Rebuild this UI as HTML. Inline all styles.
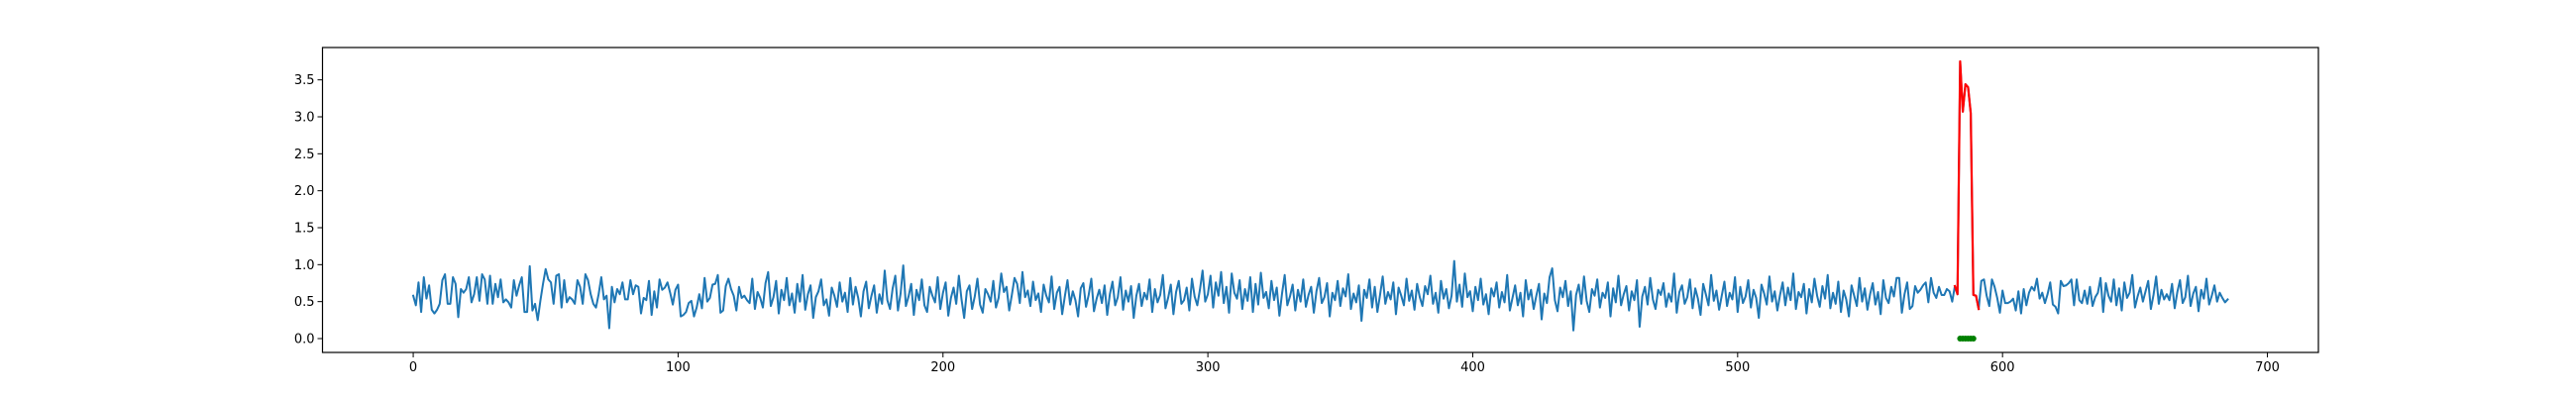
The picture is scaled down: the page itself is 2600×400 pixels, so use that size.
<!DOCTYPE html>
<html><head><meta charset="utf-8">
<style>
html,body{margin:0;padding:0;background:#fff;}
svg{display:block;font-family:"DejaVu Sans","Liberation Sans",sans-serif;}
</style></head>
<body>
<svg id="chart" width="2600" height="400" viewBox="0 0 2600 400" xmlns="http://www.w3.org/2000/svg">
<rect x="0" y="0" width="2600" height="400" fill="#fff"/>
<g id="plot"></g>
</svg>
<script>
const xTicks = [0,100,200,300,400,500,600,700];
const yTicks = [0.0,0.5,1.0,1.5,2.0,2.5,3.0,3.5];
const yTickLabels = ["0.0","0.5","1.0","1.5","2.0","2.5","3.0","3.5"];
const seriesValues = [
0.58,0.45,0.76,0.36,0.83,0.54,0.72,0.39,0.34,0.39,0.47,0.79,0.87,0.47,0.47,0.83,0.74,0.29,0.67,0.62,
0.67,0.83,0.49,0.60,0.83,0.51,0.87,0.80,0.47,0.85,0.47,0.74,0.56,0.80,0.49,0.53,0.49,0.42,0.79,0.58,
0.72,0.83,0.36,0.36,0.98,0.38,0.47,0.25,0.51,0.74,0.94,0.80,0.76,0.47,0.85,0.87,0.42,0.79,0.49,0.56,
0.53,0.47,0.79,0.70,0.47,0.87,0.79,0.60,0.47,0.42,0.60,0.83,0.53,0.58,0.14,0.70,0.49,0.67,0.60,0.76,
0.53,0.53,0.79,0.60,0.72,0.70,0.34,0.55,0.52,0.78,0.32,0.64,0.42,0.80,0.66,0.69,0.76,0.62,0.46,0.66,
0.73,0.30,0.32,0.36,0.48,0.51,0.30,0.42,0.60,0.41,0.82,0.50,0.55,0.73,0.74,0.86,0.35,0.38,0.71,0.81,
0.67,0.58,0.38,0.70,0.55,0.58,0.52,0.48,0.81,0.40,0.63,0.55,0.42,0.75,0.90,0.44,0.56,0.78,0.34,0.66,
0.52,0.82,0.45,0.61,0.35,0.74,0.50,0.86,0.39,0.60,0.72,0.28,0.56,0.64,0.80,0.45,0.53,0.31,0.69,0.58,
0.43,0.76,0.50,0.62,0.36,0.82,0.46,0.70,0.55,0.30,0.64,0.77,0.41,0.58,0.72,0.35,0.60,0.47,0.92,0.52,
0.40,0.68,0.85,0.38,0.61,0.99,0.44,0.57,0.74,0.32,0.66,0.52,0.80,0.45,0.36,0.70,0.58,0.49,0.83,0.40,
0.62,0.76,0.31,0.55,0.69,0.47,0.85,0.53,0.28,0.64,0.72,0.40,0.57,0.81,0.46,0.35,0.67,0.60,0.50,0.78,
0.42,0.55,0.88,0.63,0.70,0.38,0.59,0.82,0.74,0.48,0.90,0.56,0.65,0.44,0.77,0.52,0.61,0.36,0.73,0.58,
0.49,0.84,0.40,0.62,0.70,0.33,0.57,0.79,0.46,0.64,0.52,0.30,0.68,0.75,0.43,0.59,0.81,0.37,0.54,0.66,
0.48,0.72,0.32,0.60,0.77,0.45,0.56,0.83,0.39,0.65,0.50,0.71,0.28,0.58,0.74,0.44,0.62,0.53,0.80,0.36,
0.67,0.49,0.59,0.86,0.41,0.55,0.73,0.33,0.63,0.78,0.47,0.52,0.69,0.38,0.81,0.57,0.45,0.66,0.92,0.50,
0.60,0.85,0.42,0.76,0.58,0.90,0.48,0.70,0.35,0.88,0.62,0.54,0.79,0.40,0.67,0.51,0.83,0.36,0.74,0.46,
0.89,0.55,0.63,0.41,0.78,0.52,0.69,0.31,0.61,0.86,0.45,0.57,0.73,0.38,0.66,0.50,0.80,0.43,0.59,0.70,
0.35,0.64,0.82,0.48,0.56,0.75,0.30,0.62,0.52,0.78,0.44,0.68,0.57,0.87,0.40,0.61,0.49,0.72,0.24,0.66,
0.55,0.80,0.42,0.70,0.36,0.59,0.84,0.47,0.63,0.53,0.76,0.33,0.69,0.58,0.45,0.81,0.51,0.65,0.39,0.74,
0.56,0.44,0.71,0.60,0.85,0.47,0.62,0.35,0.78,0.54,0.67,0.41,0.58,1.05,0.50,0.73,0.43,0.88,0.56,0.64,
0.37,0.70,0.52,0.81,0.46,0.60,0.33,0.68,0.57,0.76,0.42,0.63,0.49,0.86,0.38,0.55,0.72,0.45,0.62,0.30,
0.79,0.53,0.66,0.40,0.58,0.74,0.26,0.61,0.48,0.83,0.95,0.52,0.37,0.69,0.56,0.78,0.44,0.64,0.11,0.59,
0.73,0.47,0.84,0.51,0.36,0.67,0.58,0.80,0.42,0.62,0.55,0.76,0.30,0.68,0.49,0.85,0.45,0.60,0.71,0.38,
0.64,0.52,0.79,0.16,0.57,0.70,0.46,0.82,0.53,0.40,0.66,0.59,0.75,0.43,0.61,0.50,0.88,0.35,0.63,0.72,
0.47,0.56,0.80,0.41,0.68,0.54,0.32,0.74,0.60,0.45,0.86,0.51,0.65,0.39,0.58,0.77,0.44,0.62,0.53,0.83,
0.36,0.70,0.48,0.57,0.79,0.42,0.66,0.55,0.28,0.73,0.61,0.46,0.84,0.50,0.64,0.38,0.59,0.76,0.45,0.69,
0.52,0.88,0.40,0.63,0.56,0.74,0.34,0.67,0.49,0.81,0.58,0.43,0.71,0.54,0.86,0.41,0.62,0.47,0.77,0.36,
0.65,0.53,0.30,0.72,0.58,0.44,0.82,0.50,0.68,0.39,0.60,0.75,0.46,0.63,0.33,0.79,0.55,0.48,0.70,0.57,
0.82,0.82,0.35,0.60,0.76,0.40,0.44,0.71,0.62,0.66,0.72,0.76,0.49,0.82,0.62,0.55,0.70,0.59,0.59,
0.67,0.64,0.50,0.71,0.60,3.75,3.07,3.44,3.40,3.05,0.59,0.58,0.40,0.78,0.80,0.58,0.44,0.80,0.70,0.55,
0.35,0.65,0.48,0.48,0.50,0.54,0.38,0.64,0.34,0.67,0.45,0.62,0.70,0.65,0.81,0.54,0.62,0.48,0.60,0.76,
0.46,0.43,0.34,0.78,0.71,0.72,0.75,0.80,0.45,0.80,0.52,0.48,0.65,0.47,0.70,0.44,0.56,0.62,0.82,0.36,
0.75,0.58,0.50,0.80,0.45,0.68,0.38,0.76,0.55,0.62,0.86,0.42,0.57,0.69,0.50,0.64,0.78,0.40,0.59,0.84,
0.47,0.66,0.53,0.60,0.52,0.74,0.41,0.63,0.79,0.48,0.56,0.85,0.44,0.61,0.70,0.37,0.66,0.54,0.81,0.46,
0.58,0.72,0.50,0.62,0.55,0.49,0.53
];
const anomalyStart = 582;
const anomalyValues = [0.71,0.60,3.75,3.07,3.44,3.40,3.05,0.59,0.58,0.40];
const flaggedIndices = [584,585,586,587,588,589];
const flaggedValues = [0,0,0,0,0,0];

const NS="http://www.w3.org/2000/svg";
const L=325.5,R=2340,T=48,B=356;
const xMin=-34.25,xMax=719.25,yMin=-0.1875,yMax=3.9375;
const xs=v=>L+(v-xMin)/(xMax-xMin)*(R-L);
const ys=v=>B-(v-yMin)/(yMax-yMin)*(B-T);
const g=document.getElementById('plot');
function mk(tag,attrs){const e=document.createElementNS(NS,tag);for(const k in attrs)e.setAttribute(k,attrs[k]);return e;}

let d=seriesValues.map((v,i)=>(i?'L':'M')+xs(i).toFixed(2)+' '+ys(v).toFixed(2)).join('');
const blue=mk('path',{d:d,fill:'none',stroke:'#1f77b4','stroke-width':2,'stroke-linejoin':'round','stroke-linecap':'square'});


g.appendChild(blue);

let d2=anomalyValues.map((v,i)=>(i?'L':'M')+xs(anomalyStart+i).toFixed(2)+' '+ys(v).toFixed(2)).join('');
const red=mk('path',{d:d2,fill:'none',stroke:'#ff0000','stroke-width':2.2,'stroke-linejoin':'round','stroke-linecap':'square'});


g.appendChild(red);

flaggedIndices.forEach((xi,i)=>{
  const c=mk('circle',{cx:xs(xi),cy:ys(flaggedValues[i]),r:3,fill:'#008000'});
  
  
  g.appendChild(c);
});

const frame=mk('rect',{x:L,y:T,width:R-L,height:B-T,fill:'none',stroke:'#000','stroke-width':1.2});


g.appendChild(frame);

xTicks.forEach(t=>{
  const x=xs(t);
  const tk=mk('line',{x1:x,x2:x,y1:B,y2:B+5,stroke:'#000','stroke-width':1});
  
  
  g.appendChild(tk);
  const tx=mk('text',{x:x,y:B+19,'text-anchor':'middle','font-size':13,fill:'#000'});
  tx.textContent=String(t);
  
  
  g.appendChild(tx);
});
yTicks.forEach((t,i)=>{
  const y=ys(t);
  const tk=mk('line',{x1:L-5,x2:L,y1:y,y2:y,stroke:'#000','stroke-width':1});
  
  
  g.appendChild(tk);
  const tx=mk('text',{x:L-8,y:y+4.5,'text-anchor':'end','font-size':13,fill:'#000'});
  tx.textContent=yTickLabels[i];
  
  
  g.appendChild(tx);
});
</script>
</body></html>
